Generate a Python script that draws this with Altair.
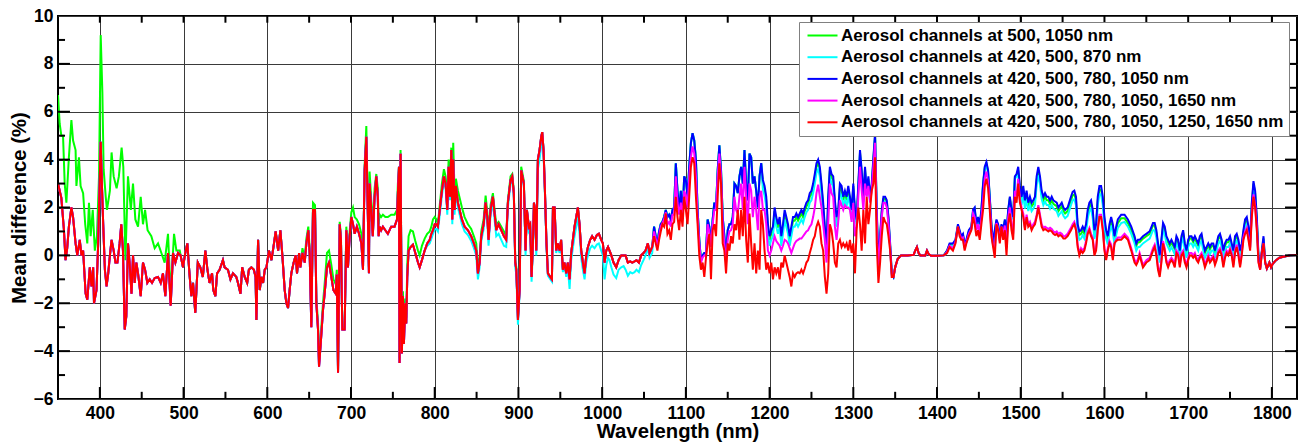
import altair as alt
import pandas as pd

LABELS = [
    "Aerosol channels at 500, 1050 nm",
    "Aerosol channels at 420, 500, 870 nm",
    "Aerosol channels at 420, 500, 780, 1050 nm",
    "Aerosol channels at 420, 500, 780, 1050, 1650 nm",
    "Aerosol channels at 420, 500, 780, 1050, 1250, 1650 nm",
]
COLORS = ["#00ff00", "#00ffff", "#0000ff", "#ff00ff", "#ff0000"]

# ---------------- segment 1 : 350-496 nm (green departs) ----------------
wl_1r = [350,354,357,359,361,363,366,368,371,373, 376,378,380,383,385,388,390,392,393,396,
         398,400,401,402.5,404,406,408,410,412,414, 416.5,418.6,421,423.6,425.6,427.6,429.7,431.6,433.6,435.5,
         437.8,439.6,441.6,443.6,445.6,448.8,451.5,454,456.7,459.5, 462.3,465.5,469.5,472.7,475.4,478.2,481.4,484.6,487.4,490.2,
         493.4,496.4]
red_1 = [3.0,2.4,1.1,-0.2,0.3,1.2,2.0,1.6,0.5,0.0, 0.65,0.0,0.2,-1.6,-1.85,-0.5,-1.3,-0.5,-2.0,-1.45,
         0.5,3.3,4.75,2.9,1.3,-0.6,-1.3,-0.75,0.0,0.65, 0.2,-0.3,-0.3,0.5,1.3,0.2,-3.1,-2.55,0.5,-0.3,
         -1.6,0.0,-1.15,-0.3,-0.75,-1.7,-0.3,-0.6,-1.15,-1.0, -1.15,-0.95,-0.9,-1.15,-0.75,-1.7,0.1,-2.1,0.1,-0.3,
         0.1,0.0]
wl_1g = [350,352,354,356,358,360,363,366,368,371, 372,375,377,380,382.5,385,387,389,391.5,394,
         396.5,399,401,403,404.5,407,408.5,412,414,416.5, 420,422.7,426,428,430.5,433.6,437,439.6,442.4,445.6,
         448.8,451.5,454,457,461.5,465.5,469.5,473.5,477.4,481.4, 484.6,488.6,491.4,495.4]
green_1 = [6.7,5.5,5.0,5.0,3.0,2.2,4.1,5.65,4.8,4.4, 2.9,4.1,2.9,2.6,1.3,0.5,2.2,0.8,1.9,0.2,
           0.8,3.3,9.2,6.8,3.6,2.45,1.9,2.7,4.3,3.3, 2.8,3.3,4.5,3.7,-0.2,3.3,1.9,3.0,1.5,1.2,
           2.45,1.3,1.9,1.05,0.8,0.3,0.5,0.1,-0.3,0.9, -1.6,0.9,0.2,0.2]

# ---------------- segment 2 : 499-640 nm (all coincide) ----------------
wl_2 = [499.3,502,504.5,507,509.3,511.3,514,517,520,523, 526,528.5,531,534,535.5,538,540,543,547,549,
        553,556,559,563,565,568,570,573,576,578, 581,584,586,587,589,591,593,595,597,599,
        602,605,608,610,613,615.6,618,620.8,622.8,624.8, 626.7,628.7,631.5,634,635.5,638,639.5]
red_2 = [-0.5,0.1,0.5,-0.75,-1.7,-1.15,-2.4,-0.3,-0.5,-0.9, 0.2,-0.6,-1.15,-0.75,-1.45,-1.7,-0.75,-0.6,-0.2,-0.5,
         -0.6,-1.0,-0.75,-0.9,-1.15,-1.6,-0.5,-0.9,-1.15,-0.6, -0.5,-0.6,-0.9,-2.7,0.65,-1.45,-0.9,-1.15,-0.6,-0.5,
         0.2,-0.2,0.5,1.0,0.2,1.05,0.0,-1.45,-2.0,-2.2, -1.45,-0.75,-0.3,0.0,-0.75,0.1,-0.5]

# ---------------- segment 3 : 642-906 nm ----------------
wl_3 = [642,644.7,646.7,649,650.6,652.6,654.6,657,658.6,660.6, 661.8,663.8,666.5,668.5,671.3,673.7,676.5,679,681.7,683,
        684.5,686.5,688,689.6,692.4,694.4,696.4,698.4,700.4,702.4, 704.4,707,709.6,712.4,714.3,716.3,718.3,720,721.4,722.2,
        724.2,726,728.2,730.2,732,733,734.2,736,738.1,741, 744,748,752,754.9,756,757.3,758,759.2,760.8,762,
        763.2,764.8,766,767.2,768.8,771.2,774,776.8,780,782, 784.7,788,791,794,796,797.9,800,802,803.8,806,
        808.6,811,813,815,816.6,818.2,819.8,821,822.1,823.7, 825.3,827.7,829.8,832.5,835.7,839.7,843.6,846.8,849.6,851.6,
        853.6,855.6,858.4,860.8,862.8,864.3,866.7,869.5,871.5,873.5, 876.3,879.5,882.7,885.4,887.4,890.6,892.6,894.5,896.2,897.5,
        899.4,901.4,903.3,906.5]
red_3 = [0.1,-0.3,0.5,1.05,0.1,-3.0,1.9,1.9,-2.0,-3.1, -4.65,-3.7,-2.3,-1.6,-0.5,-0.3,-0.9,-1.45,-1.6,-0.8,
         -4.9,1.3,0.65,-3.1,-3.1,1.05,-0.5,0.8,1.6,1.3, 0.9,1.2,0.9,0.5,-0.6,3.55,4.95,1.9,-0.75,3.0,
         1.9,0.8,2.45,3.3,2.45,0.8,1.2,1.05,1.2,1.05, 0.9,1.2,1.2,1.5,2.6,3.7,-4.5,4.25,-4.1,-1.7,
         -3.7,-2.0,-2.85,-0.9,0.2,0.35,0.45,0.1,-0.3,-0.5, -0.2,0.2,0.5,0.65,0.9,1.05,1.3,1.3,1.2,1.9,
         2.7,3.3,3.0,1.9,3.7,2.45,4.4,1.5,4.0,1.9, 2.9,2.2,1.9,1.5,1.2,1.05,0.8,0.5,0.2,-0.75,
         -0.3,0.8,1.3,2.2,1.6,0.65,1.9,2.45,1.75,1.05, 1.3,1.05,0.8,0.65,2.2,3.15,3.3,2.6,-0.3,-0.6,
         -2.7,-1.45,3.55,3.0]
green_3 = [0.3,-0.1,0.7,1.2,0.3,-2.8,2.2,2.1,-1.8,-2.8, -4.4,-3.4,-2.0,-1.2,0.1,0.2,-0.4,-1.0,-1.2,-0.6,
           -4.8,1.4,0.8,-3.0,-3.0,1.2,-0.3,1.0,1.8,2.0, 1.6,1.5,1.3,0.9,-0.4,3.8,5.4,2.2,-0.5,3.5,
           2.3,1.2,2.8,3.4,2.8,1.3,1.7,1.6,1.7,1.6, 1.6,1.7,1.7,1.9,3.0,3.7,-4.3,4.4,-3.9,-1.5,
           -3.4,-1.8,-2.6,-0.4,0.8,1.05,1.0,0.6,0.2,0.0, 0.4,0.7,0.9,1.0,1.2,1.5,1.6,1.5,1.3,2.1,
           3.0,3.6,3.3,2.4,4.0,2.9,4.5,2.2,4.7,2.6, 3.2,2.7,2.4,2.0,1.6,1.3,1.1,0.8,0.5,-0.5,
           -0.1,1.0,1.5,2.5,1.8,0.9,2.1,2.6,1.9,1.3, 1.4,1.2,1.0,0.8,2.3,3.3,3.4,2.7,-0.2,-0.5,
           -2.6,-1.4,3.7,3.1]
cyan_3 = [0.1,-0.3,0.5,1.05,0.1,-3.0,1.9,1.9,-2.0,-3.1, -4.65,-3.7,-2.3,-1.6,-0.5,-0.3,-0.9,-1.45,-1.6,-0.8,
          -4.9,1.3,0.65,-3.1,-3.1,1.05,-0.5,0.8,1.6,1.3, 0.9,1.2,0.9,0.5,-0.6,3.55,4.95,1.9,-0.75,3.0,
          1.9,0.8,2.45,3.3,2.45,0.8,1.2,1.05,1.2,1.05, 0.9,1.2,1.2,1.5,2.6,3.7,-4.5,4.25,-4.1,-1.7,
          -3.7,-2.0,-2.85,-0.9,0.2,0.35,0.45,0.1,-0.3,-0.5, -0.2,0.2,0.4,0.5,0.7,0.9,1.1,1.1,1.0,1.7,
          2.5,3.1,2.8,1.7,3.5,2.3,4.2,1.3,3.8,1.7, 2.7,2.0,1.7,1.3,1.0,0.85,0.6,0.3,0.0,-1.0,
          -0.5,0.6,1.1,2.0,1.4,0.4,1.7,2.2,1.5,0.8, 0.9,0.65,0.4,0.35,2.0,3.0,3.2,2.4,-0.5,-0.8,
          -2.9,-1.6,3.4,2.9]

# ---------------- segment 4 : 907-1060 nm (cyan lower) ----------------
wl_4 = [907.3,908.5,910.1,912.5,914,915.7,917.3,918.5,920,921.3, 923.2,925.2,927.2,928.4,930,931.6,933.5,935.2,938,940,
        941.2,943.2,945.1,947,949.1,951,953.1,955,957.1,959, 961.1,963,965,967,969,971,973,975,977,979,
        981,983,985.7,988,990.9,993.7,996.1,998.9,1000.9,1002.9, 1004.9,1007,1008.8,1011,1013.6,1016.8,1019.6,1022.8,1025.6,1028,
        1030.7,1033.5,1036,1038.7,1041,1043.9,1046.6,1049.4,1051.8,1054.6, 1056.6,1059.8]
red_4 = [1.9,0.2,1.9,1.2,1.3,-0.9,0.5,2.2,1.9,0.2, 4.0,4.4,4.95,5.15,4.4,2.75,0.5,-0.75,-0.9,-1.0,
         2.0,2.0,0.2,0.5,0.2,0.65,-0.6,-0.3,-0.75,-0.3, -1.0,0.1,0.65,1.2,1.6,2.0,1.3,0.2,-0.3,-0.75,
         0.0,0.35,0.65,0.8,0.65,0.85,0.9,0.65,0.5,-0.3, 0.2,0.35,0.2,0.0,-0.3,-0.5,-0.2,0.0,0.0,0.0,
         -0.3,-0.25,-0.3,-0.25,-0.2,-0.3,0.0,0.1,0.2,0.5, 0.1,0.35]
cyan_4 = [1.7,0.0,1.7,1.0,1.1,-1.1,0.3,2.0,1.7,0.0, 3.6,4.0,4.6,4.9,4.2,2.6,0.4,-0.85,-1.0,-1.1,
          1.9,1.9,0.1,0.4,0.1,0.5,-0.7,-0.4,-0.9,-0.5, -1.4,-0.2,0.3,0.8,1.2,1.6,0.9,-0.1,-0.6,-1.0,
          -0.3,0.0,0.3,0.4,0.3,0.45,0.5,0.2,0.0,-1.0, -0.4,-0.1,-0.2,-0.5,-0.8,-0.95,-0.6,-0.5,-0.45,-0.6,
          -0.85,-0.7,-0.75,-0.7,-0.6,-0.7,-0.4,-0.2,0.0,0.3, -0.1,0.1]

# ---------------- segment 5a : 1062-1190 nm (green/cyan under blue) ----------------
wl_5a = list(range(1062, 1191, 2))
blue_5a = [1.2,0.8,0.5,1.0,1.3,1.4,1.6,1.9,1.6,1.7, 1.5,1.9,2.0,3.85,2.7,1.9,2.7,1.6,3.3,3.15,
           2.45,3.7,4.7,5.1,4.8,4.0,1.9,0.65,-0.2,0.0, 0.1,0.1,1.5,1.2,0.5,1.5,2.2,2.0,3.55,4.6,
           3.55,1.6,0.8,0.0,1.05,1.3,1.3,1.6,3.0,2.9, 2.6,3.3,3.7,3.0,4.4,3.0,2.3,4.25,4.1,3.0,
           3.3,2.7,2.0,3.3,3.85]
magenta_5a = [1.0,0.7,0.4,0.8,1.2,1.35,1.5,1.8,1.3,1.4, 1.2,1.7,1.7,3.3,2.2,1.7,2.2,1.5,2.7,2.5,
              2.0,3.3,4.1,4.55,4.25,3.3,1.6,0.5,-0.3,-0.1, 0.0,0.0,1.3,1.0,0.35,1.3,1.9,1.9,3.3,4.25,
              3.3,1.3,0.5,-0.3,0.65,1.0,1.05,1.3,2.45,1.9, 1.75,2.45,3.0,1.9,3.7,2.45,1.3,3.0,2.7,1.6,
              2.45,1.9,1.05,2.45,2.7]
red_5a = [0.8,0.5,0.2,0.65,1.0,1.3,1.2,1.75,0.9,1.05, 0.65,1.3,1.4,2.45,1.6,1.05,1.9,1.2,2.45,1.9,
          1.3,2.45,3.7,4.1,3.85,2.45,1.3,0.0,-0.6,-0.3, -0.9,-0.1,0.5,0.9,-1.0,1.05,1.3,0.8,2.45,3.85,
          3.0,0.5,0.2,-0.75,0.5,0.2,0.8,0.5,1.3,1.05, 1.9,0.65,1.9,0.8,2.45,0.65,-0.3,1.75,0.5,-0.6,
          0.5,-0.75,0.2,-0.6,1.9]

# ---------------- segment 5b : 1192-1346 nm (all five separate) ----------------
wl_5b = list(range(1192, 1347, 2))
blue_5b = [3.15,2.9,2.45,1.3,0.8,1.05,1.2,2.0,1.6,1.3, 1.6,0.8,1.3,1.9,1.6,1.3,0.8,1.2,1.6,1.6,
           1.75,1.6,1.75,1.9,1.75,2.0,2.2,2.3,2.6,2.7, 3.0,3.4,3.85,4.0,3.7,3.0,2.2,1.2,0.3,2.45,
           3.7,3.4,3.3,2.3,1.6,1.9,3.0,2.9,2.45,2.7, 2.45,2.9,2.45,1.9,3.0,1.9,1.5,3.0,4.4,3.55,
           2.45,3.7,2.7,3.3,2.45,3.0,4.1,5.1,1.9,-0.3, 0.8,1.9,2.45,2.45,2.3,1.6,0.5,-0.75]
green_5b = [3.0,2.75,2.3,1.15,0.65,0.9,1.05,1.85,1.45,1.15, 1.45,0.65,1.15,1.75,1.45,1.15,0.65,1.05,1.45,1.45,
            1.6,1.45,1.6,1.75,1.6,1.85,2.05,2.15,2.45,2.55, 2.85,3.25,3.7,3.85,3.55,2.85,2.05,1.05,0.15,2.3,
            3.55,3.25,3.15,2.15,1.45,1.75,2.85,2.75,2.3,2.55, 2.3,2.75,2.3,1.75,2.9,1.8,1.4,2.9,4.3,3.45,
            2.35,3.6,2.6,3.2,2.35,2.9,4.0,5.0,1.8,-0.4, 0.7,1.8,2.35,2.35,2.2,1.5,0.4,-0.8]
cyan_5b = [2.75,2.5,2.05,0.9,0.4,0.65,0.8,1.6,1.2,0.9, 1.2,0.4,0.9,1.5,1.2,0.9,0.4,0.8,1.2,1.2,
           1.35,1.2,1.35,1.5,1.35,1.6,1.8,1.9,2.2,2.3, 2.6,3.0,3.45,3.6,3.3,2.6,1.8,0.8,0.0,2.05,
           3.3,3.0,2.9,1.9,1.2,1.5,2.6,2.5,2.05,2.3, 2.05,2.5,2.05,1.5,2.7,1.7,1.3,2.8,4.2,3.35,
           2.25,3.5,2.5,3.1,2.25,2.8,3.9,4.9,1.7,-0.5, 0.6,1.7,2.25,2.25,2.1,1.4,0.35,-0.85]
magenta_5b = [1.9,1.9,1.3,0.2,0.0,0.2,0.5,0.8,0.6,0.5, 0.4,0.2,0.4,0.65,0.6,0.5,0.3,0.1,0.3,0.5,
              0.6,0.65,0.7,0.7,0.8,0.9,1.0,1.05,1.2,1.3, 1.6,2.0,2.6,2.95,2.45,2.0,1.3,0.65,-0.3,1.3,
              3.0,2.6,2.45,1.2,0.65,1.4,2.3,2.1,1.9,2.1, 2.0,2.0,1.9,1.4,2.2,0.8,1.2,2.45,3.7,2.7,
              1.9,3.0,2.45,2.9,2.2,2.7,3.7,4.7,1.5,-0.75, 0.6,1.6,2.2,2.2,2.0,1.3,0.35,-0.9]
red_5b = [1.3,0.2,-0.6,-0.3,-0.75,-0.3,-1.0,-0.5,-0.75,-0.5, -1.0,-0.3,-0.5,0.0,-0.3,-0.6,-0.9,-1.3,-0.75,-0.9,
          -0.75,-0.7,-0.75,-0.6,-0.75,-0.55,-0.3,-0.2,0.1,0.35, 0.65,0.8,1.2,1.4,1.2,0.5,0.2,-0.9,-1.6,-0.75,
          1.3,1.05,0.5,-0.3,-0.5,0.5,0.65,0.35,0.5,0.35, 0.5,0.2,0.65,0.1,0.5,-0.75,1.1,2.0,1.3,0.2,
          1.9,0.5,2.45,1.3,1.9,2.7,3.0,4.1,0.5,-1.15, -0.3,0.8,1.6,1.4,1.3,0.8,0.2,-0.9]

# ---------------- segment 6 : 1348-1408 nm (all coincide) ----------------
wl_6 = [1348,1350,1353,1357,1365,1372,1374,1376,1378,1380,1386,1388,1390,1393,1400,1408]
red_6 = [-0.9,-0.5,-0.15,0.0,0.0,0.02,0.2,0.35,0.1,0.0,0.0,0.2,0.05,-0.02,-0.02,0.0]

# ---------------- segment 7 : 1410-1790 nm ----------------
wl_7 = [1410,1412,1415,1419,1422,1425,1427,1429,1431,1433, 1435,1438,1441,1443,1445,1447,1449,1451,1453,1455,
        1457,1459,1461,1463,1465,1467,1469,1471,1473,1475, 1477,1479,1481,1483,1485,1487,1489,1491,1493,1495,
        1497,1499,1501,1503,1505,1507,1509,1511,1513,1515, 1517,1519,1521,1523,1525,1527,1529,1531,1533,1535,
        1537,1539,1541,1543,1545,1547,1549,1551,1553,1556, 1560,1562,1564,1566,1568,1570,1572,1574,1576,1578,
        1580,1582,1584,1586,1588,1590,1592,1594,1596,1598, 1600,1602,1604,1606,1608,1610,1612,1614,1616,1620,
        1624,1628,1632,1636,1638,1640,1642,1646,1650,1654, 1658,1660,1662,1664,1666,1668,1670,1672,1674,1676,
        1678,1680,1682,1684,1686,1688,1690,1692,1694,1696, 1698,1700,1702,1704,1706,1708,1710,1712,1714,1716,
        1718,1720,1722,1724,1726,1728,1730,1732,1734,1736, 1738,1740,1742,1744,1746,1748,1750,1752,1754,1756,
        1758,1760,1762,1764,1766,1768,1770,1772,1774,1776, 1778,1780,1782,1784,1786,1788,1790]
blue_7 = [0.1,0.2,0.5,0.5,0.65,1.3,1.05,0.8,0.9,0.5, 0.65,1.05,1.2,1.9,2.0,1.3,1.6,1.3,1.9,3.0,
          3.7,3.9,3.55,2.45,1.3,0.5,1.05,1.5,1.3,0.8, 1.3,1.05,1.5,0.9,1.9,2.45,1.9,1.6,3.3,3.4,
          3.7,2.9,2.45,2.9,2.3,2.7,2.2,2.45,2.2,2.3, 2.45,3.3,3.7,3.3,2.7,2.45,2.6,2.45,2.45,2.3,
          2.45,2.3,2.25,2.2,2.0,2.1,2.2,2.0,1.9,2.0, 2.45,2.65,2.7,2.45,1.3,1.0,1.05,1.2,1.05,1.3,
          1.9,2.2,2.3,1.9,1.05,1.3,2.45,2.9,2.9,2.45, 1.6,1.05,0.8,1.3,1.6,1.3,0.8,1.2,1.5,1.7,
          1.7,1.5,1.2,0.8,0.5,0.65,0.65,0.8,0.9,1.0, 1.35,1.35,1.05,0.5,0.0,0.65,1.35,1.2,0.8,0.65,
          0.5,0.65,0.5,0.35,0.8,0.65,0.2,0.8,1.05,0.5, 0.2,0.65,0.8,0.8,0.65,0.8,0.65,0.5,0.8,0.9,
          0.5,0.2,0.35,0.5,0.35,0.5,0.5,0.2,0.5,0.8, 0.9,0.65,0.2,0.5,0.65,0.65,0.8,0.5,0.2,0.8,
          0.9,0.65,0.2,0.5,1.05,1.5,1.6,1.2,0.65,2.2, 3.1,2.7,1.6,0.0,-0.5,0.2,0.8]
green_7 = [0.1,0.2,0.45,0.45,0.6,1.25,1.0,0.75,0.85,0.45, 0.6,1.0,1.15,1.85,1.95,1.25,1.55,1.25,1.85,2.95,
           3.65,3.85,3.5,2.4,1.25,0.45,1.0,1.45,1.25,0.75, 1.25,1.0,1.45,0.85,1.85,2.4,1.85,1.55,3.25,3.35,
           3.55,2.75,2.3,2.75,2.15,2.55,2.05,2.3,2.05,2.15, 2.3,3.15,3.55,3.15,2.55,2.3,2.45,2.3,2.3,2.15,
           2.3,2.15,2.1,2.05,1.85,1.95,2.05,1.85,1.75,1.85, 2.3,2.5,2.55,2.3,1.15,0.85,0.9,1.05,0.9,1.15,
           1.75,2.05,2.15,1.75,0.9,1.15,2.3,2.75,2.75,2.3, 1.45,0.9,0.65,1.15,1.45,1.15,0.65,1.05,1.35,1.55,
           1.55,1.35,1.05,0.65,0.4,0.55,0.55,0.7,0.8,0.9, 1.25,1.25,0.95,0.4,-0.1,0.55,1.25,1.1,0.7,0.55,
           0.4,0.55,0.4,0.25,0.7,0.55,0.1,0.7,0.95,0.4, 0.1,0.55,0.7,0.7,0.55,0.7,0.55,0.4,0.7,0.8,
           0.4,0.1,0.25,0.4,0.25,0.4,0.4,0.1,0.4,0.7, 0.8,0.55,0.1,0.4,0.55,0.55,0.7,0.4,0.1,0.7,
           0.8,0.55,0.1,0.4,0.95,1.4,1.5,1.1,0.55,2.1, 3.0,2.6,1.5,-0.1,-0.55,0.15,0.7]
cyan_7 = [0.05,0.15,0.4,0.4,0.55,1.2,0.95,0.7,0.8,0.4, 0.55,0.95,1.1,1.8,1.9,1.2,1.5,1.2,1.8,2.9,
          3.6,3.8,3.45,2.35,1.2,0.4,0.95,1.4,1.2,0.7, 1.2,0.95,1.4,0.8,1.8,2.35,1.8,1.5,3.2,3.3,
          3.35,2.55,2.1,2.55,1.95,2.35,1.85,2.1,1.85,1.95, 2.1,2.95,3.35,2.95,2.35,2.1,2.25,2.1,2.1,1.95,
          2.1,1.95,1.9,1.85,1.65,1.75,1.85,1.65,1.55,1.65, 2.1,2.3,2.35,2.1,0.95,0.65,0.7,0.85,0.7,0.95,
          1.55,1.85,1.95,1.55,0.7,0.95,2.1,2.55,2.55,2.1, 1.25,0.7,0.45,0.95,1.25,0.95,0.45,0.85,1.15,1.35,
          1.4,1.2,0.9,0.5,0.2,0.35,0.35,0.5,0.6,0.7, 1.05,1.05,0.75,0.2,-0.3,0.35,1.05,0.9,0.5,0.35,
          0.2,0.35,0.2,0.05,0.5,0.35,-0.1,0.5,0.75,0.2, -0.1,0.35,0.5,0.5,0.35,0.5,0.35,0.2,0.5,0.6,
          0.2,-0.1,0.05,0.2,0.05,0.2,0.2,-0.1,0.2,0.5, 0.6,0.35,-0.1,0.2,0.35,0.35,0.5,0.2,-0.1,0.5,
          0.6,0.35,-0.1,0.2,0.75,1.2,1.3,0.9,0.35,1.9, 2.8,2.4,1.3,-0.2,-0.55,0.1,0.6]
magenta_7 = [0.05,0.15,0.4,0.3,0.55,1.2,0.9,0.7,0.75,0.3, 0.55,0.9,1.1,1.75,1.6,1.05,1.3,0.9,1.55,2.3,
             3.2,3.5,3.1,2.1,1.0,0.4,0.2,1.35,1.15,0.6, 1.2,0.85,1.25,0.3,1.6,2.0,1.3,0.9,2.7,2.5,
             3.2,2.35,2.0,1.75,1.15,1.7,1.3,1.4,1.15,1.3, 1.4,1.7,2.1,1.7,1.3,1.15,1.2,1.15,1.1,1.15,
             1.1,1.0,0.95,1.0,0.9,0.95,0.9,0.8,0.8,0.9, 1.15,1.3,1.4,1.15,0.45,0.1,0.3,0.2,0.3,0.6,
             1.0,1.15,0.9,0.75,0.1,0.3,1.15,1.7,1.7,1.15, 0.3,-0.1,0.3,0.6,0.45,-0.1,0.5,0.65,0.75,0.75,
             0.9,0.75,0.3,-0.2,-0.3,-0.15,0.1,-0.4,-0.2,-0.1, 0.3,0.45,0.1,-0.5,-0.8,-0.2,0.6,0.3,-0.2,-0.4,
             -0.2,-0.1,-0.2,-0.4,0.2,0.1,-0.4,0.1,0.2,-0.2, -0.4,-0.1,0.1,0.1,0.0,0.1,-0.1,-0.2,0.0,0.1,
             -0.1,-0.4,-0.2,0.0,-0.2,-0.1,0.0,-0.3,-0.1,0.2, 0.3,0.1,-0.4,0.0,0.2,0.1,0.3,0.1,-0.4,0.2,
             0.45,0.1,-0.4,0.1,0.75,1.0,1.15,0.75,0.3,1.7, 2.55,2.1,1.15,-0.25,-0.6,0.1,0.5]
red_7 = [0.05,0.1,0.35,0.2,0.5,1.2,0.8,0.65,0.65,0.2, 0.5,0.8,1.05,1.6,1.3,0.8,1.05,0.65,1.3,1.9,
         2.9,3.2,2.8,1.9,0.8,0.35,-0.1,1.3,1.05,0.5, 1.2,0.65,1.05,0.0,1.3,1.75,1.05,0.65,2.45,2.2,
         3.0,2.2,1.9,1.6,1.05,1.6,1.2,1.3,1.05,1.2, 1.3,1.6,2.0,1.6,1.2,1.05,1.1,1.05,1.0,1.05,
         1.0,0.9,0.85,0.9,0.8,0.85,0.8,0.7,0.7,0.8, 1.05,1.2,1.3,1.05,0.35,0.0,0.2,0.1,0.2,0.5,
         0.9,1.05,0.8,0.65,0.0,0.2,1.05,1.6,1.6,1.05, 0.2,-0.2,0.2,0.5,0.35,-0.2,0.5,0.6,0.65,0.65,
         0.8,0.65,0.2,-0.3,-0.4,-0.25,0.0,-0.5,-0.3,-0.2, 0.2,0.35,0.0,-0.6,-0.9,-0.3,0.5,0.2,-0.3,-0.5,
         -0.3,-0.2,-0.3,-0.5,0.1,0.0,-0.5,0.0,0.1,-0.3, -0.5,-0.2,0.0,0.0,-0.1,0.0,-0.2,-0.3,-0.1,0.0,
         -0.2,-0.5,-0.3,-0.1,-0.3,-0.2,-0.1,-0.4,-0.2,0.1, 0.2,0.0,-0.5,-0.1,0.1,0.0,0.2,0.0,-0.5,0.1,
         0.35,0.0,-0.5,0.0,0.65,0.9,1.05,0.65,0.2,1.6, 2.45,2.0,1.05,-0.3,-0.6,0.1,0.5]

# ---------------- segment 8 : 1792-1830 nm (all coincide) ----------------
wl_8 = [1792,1794,1797,1799,1801,1805,1809,1815,1822,1830]
red_8 = [-0.3,-0.55,-0.3,-0.5,-0.35,-0.2,-0.1,-0.05,0.0,0.02]

SERIES_PARTS = [
    [(wl_1g, green_1), (wl_2, red_2), (wl_3, green_3), (wl_4, red_4), (wl_5a, blue_5a),
     (wl_5b, green_5b), (wl_6, red_6), (wl_7, green_7), (wl_8, red_8)],
    [(wl_1r, red_1), (wl_2, red_2), (wl_3, cyan_3), (wl_4, cyan_4), (wl_5a, blue_5a),
     (wl_5b, cyan_5b), (wl_6, red_6), (wl_7, cyan_7), (wl_8, red_8)],
    [(wl_1r, red_1), (wl_2, red_2), (wl_3, red_3), (wl_4, red_4), (wl_5a, blue_5a),
     (wl_5b, blue_5b), (wl_6, red_6), (wl_7, blue_7), (wl_8, red_8)],
    [(wl_1r, red_1), (wl_2, red_2), (wl_3, red_3), (wl_4, red_4), (wl_5a, magenta_5a),
     (wl_5b, magenta_5b), (wl_6, red_6), (wl_7, magenta_7), (wl_8, red_8)],
    [(wl_1r, red_1), (wl_2, red_2), (wl_3, red_3), (wl_4, red_4), (wl_5a, red_5a),
     (wl_5b, red_5b), (wl_6, red_6), (wl_7, red_7), (wl_8, red_8)],
]

FONT = "Liberation Sans"
XDOM = [350, 1830]
YDOM = [-6, 10]

x_scale = alt.Scale(domain=XDOM, nice=False, zero=False)
y_scale = alt.Scale(domain=YDOM, nice=False, zero=False)
color_scale = alt.Scale(domain=LABELS, range=COLORS)

legend = alt.Legend(
    title=None, orient="none", legendX=741, legendY=6,
    symbolType="M-1,0H5", symbolSize=100, symbolStrokeWidth=2,
    labelFont=FONT, labelFontSize=17, labelFontWeight="bold", labelColor="black",
    labelOffset=20, labelLimit=0, rowPadding=3.7,
    padding=5, strokeColor="#808080", fillColor="white",
)

x_axis = alt.Axis(values=list(range(400, 1801, 100)), title="Wavelength (nm)", format="d",
                  grid=True, ticks=False, tickSize=0, domain=False, labelOverlap=False, labelFlush=False,
                  labelPadding=5, titlePadding=0)
y_axis = alt.Axis(values=list(range(-6, 11, 2)), title="Mean difference (%)", format="d",
                  grid=True, ticks=False, tickSize=0, domain=False, labelOverlap=False, labelFlush=False,
                  labelPadding=5, titlePadding=4)

layers = []
for label, parts in zip(LABELS, SERIES_PARTS):
    rows = []
    for wl, vals in parts:
        assert len(wl) == len(vals), (label, len(wl), len(vals))
        rows.extend({"wl": w, "val": v, "series": label} for w, v in zip(wl, vals))
    df = pd.DataFrame(rows)
    layers.append(
        alt.Chart(df).mark_line(strokeWidth=2, clip=True).encode(
            x=alt.X("wl:Q", scale=x_scale, axis=x_axis),
            y=alt.Y("val:Q", scale=y_scale, axis=y_axis),
            color=alt.Color("series:N", scale=color_scale, legend=legend),
        )
    )

# inward tick marks of the frame (axis decoration)
tick_rows = []
for v in range(400, 1801, 100):
    tick_rows.append({"wl": v, "wl2": v, "val": -6, "val2": -5.5})
for v in range(450, 1751, 100):
    tick_rows.append({"wl": v, "wl2": v, "val": -6, "val2": -5.7})
for v in range(400, 1801, 50):
    tick_rows.append({"wl": v, "wl2": v, "val": 10, "val2": 9.72})
for v in range(-5, 10):
    ln = 14.3 if v % 2 == 0 else 8.4
    tick_rows.append({"wl": 350, "wl2": 350 + ln, "val": v, "val2": v})
    tick_rows.append({"wl": 1830, "wl2": 1830 - 14.3, "val": v, "val2": v})
ticks = alt.Chart(pd.DataFrame(tick_rows)).mark_rule(color="black", strokeWidth=2).encode(
    x=alt.X("wl:Q", scale=x_scale, axis=x_axis),
    x2="wl2:Q",
    y=alt.Y("val:Q", scale=y_scale, axis=y_axis),
    y2="val2:Q",
)

chart = alt.layer(*layers, ticks).properties(
    width=1239, height=383,
    padding={"left": 58, "top": 16, "right": 4, "bottom": 43},
    autosize=alt.AutoSizeParams(type="none"),
    background="white",
).configure_view(
    stroke="black", strokeWidth=2
).configure_axis(
    labelFont=FONT, labelFontSize=17.5, labelFontWeight="bold", labelColor="black",
    titleFont=FONT, titleFontSize=20.3, titleFontWeight="bold", titleColor="black",
    gridColor="#3a3a3a", gridWidth=1, gridOpacity=1,
)

chart.save("out.html", embed_options={"renderer": "svg", "actions": False})
